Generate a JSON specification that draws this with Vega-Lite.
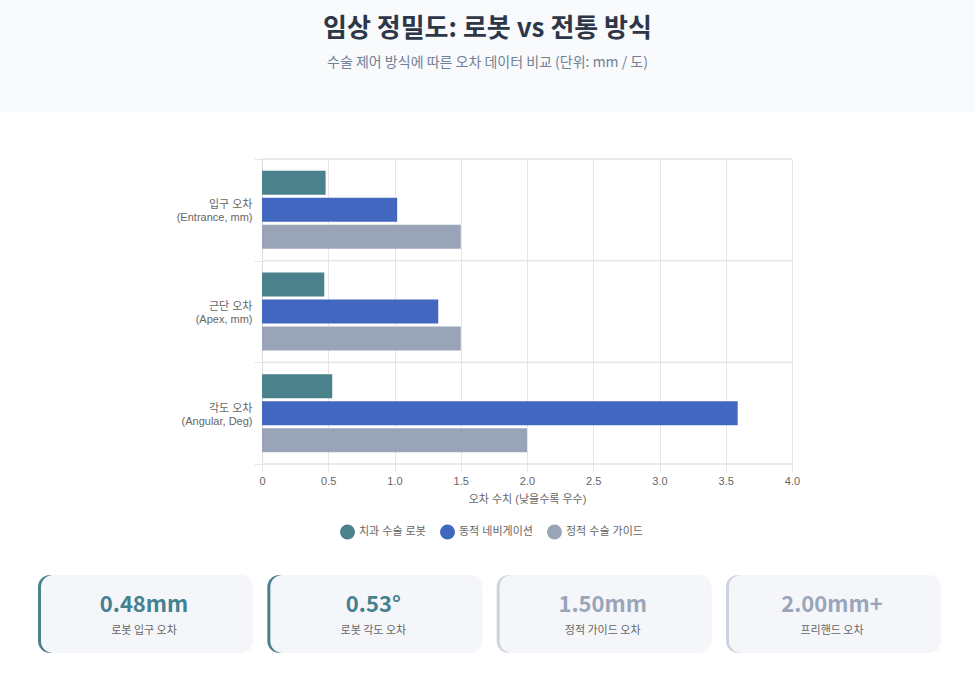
{
  "$schema": "https://vega.github.io/schema/vega-lite/v6.json",
  "background": "white",
  "padding": 0,
  "config": {
    "view": {"stroke": null},
    "font": "Liberation Sans, Noto Sans CJK KR, sans-serif"
  },
  "datasets": {
    "header": [
      {"title": "임상 정밀도: 로봇 vs 전통 방식", "subtitle": "수술 제어 방식에 따른 오차 데이터 비교 (단위: mm / 도)"}
    ],
    "bars": [
      {"metric": "입구 오차|(Entrance, mm)", "series": "치과 수술 로봇", "value": 0.48},
      {"metric": "입구 오차|(Entrance, mm)", "series": "동적 네비게이션", "value": 1.02},
      {"metric": "입구 오차|(Entrance, mm)", "series": "정적 수술 가이드", "value": 1.5},
      {"metric": "근단 오차|(Apex, mm)", "series": "치과 수술 로봇", "value": 0.47},
      {"metric": "근단 오차|(Apex, mm)", "series": "동적 네비게이션", "value": 1.33},
      {"metric": "근단 오차|(Apex, mm)", "series": "정적 수술 가이드", "value": 1.5},
      {"metric": "각도 오차|(Angular, Deg)", "series": "치과 수술 로봇", "value": 0.53},
      {"metric": "각도 오차|(Angular, Deg)", "series": "동적 네비게이션", "value": 3.59},
      {"metric": "각도 오차|(Angular, Deg)", "series": "정적 수술 가이드", "value": 2.0}
    ],
    "cards": [
      {"card": "c1", "value": "0.48mm", "label": "로봇 입구 오차", "kind": "robot"},
      {"card": "c2", "value": "0.53°", "label": "로봇 각도 오차", "kind": "robot"},
      {"card": "c3", "value": "1.50mm", "label": "정적 가이드 오차", "kind": "other"},
      {"card": "c4", "value": "2.00mm+", "label": "프리핸드 오차", "kind": "other"}
    ]
  },
  "spacing": 41,
  "vconcat": [
    {
      "width": 975,
      "height": 112,
      "view": {"fill": "#f8fafc", "stroke": null},
      "data": {"name": "header"},
      "layer": [
        {
          "mark": {"type": "text", "font": "Noto Sans CJK KR", "fontSize": 26, "fontWeight": "bold", "color": "#2d3748", "dy": -27, "baseline": "middle", "align": "center"},
          "encoding": {"text": {"field": "title"}}
        },
        {
          "mark": {"type": "text", "font": "Noto Sans CJK KR", "fontSize": 14, "color": "#718096", "dy": 7, "baseline": "middle", "align": "center"},
          "encoding": {"text": {"field": "subtitle"}}
        }
      ]
    },
    {
      "spacing": 71,
      "vconcat": [
        {
          "width": 792,
          "height": 305,
          "data": {"name": "bars"},
          "layer": [
            {
              "mark": {"type": "rule", "color": "#e6e6e6", "strokeWidth": 1},
              "encoding": {
                "y": {"field": "metric", "type": "nominal", "bandPosition": 0},
                "x": {"datum": 0},
                "x2": {"datum": 4}
              }
            },
            {
              "transform": [{"filter": "datum.metric === '각도 오차|(Angular, Deg)'"}],
              "mark": {"type": "rule", "color": "#e6e6e6", "strokeWidth": 1},
              "encoding": {
                "y": {"field": "metric", "type": "nominal", "bandPosition": 1},
                "x": {"datum": 0},
                "x2": {"datum": 4}
              }
            },
            {
              "mark": {"type": "bar"},
              "encoding": {
                "y": {"field": "metric", "type": "nominal"},
                "x": {"field": "value", "type": "quantitative"},
                "yOffset": {
                  "field": "series",
                  "type": "nominal",
                  "sort": ["치과 수술 로봇", "동적 네비게이션", "정적 수술 가이드"],
                  "scale": {"paddingInner": 0.111, "paddingOuter": 0.438}
                },
                "color": {
                  "field": "series",
                  "type": "nominal",
                  "scale": {
                    "domain": ["치과 수술 로봇", "동적 네비게이션", "정적 수술 가이드"],
                    "range": ["#4a818b", "#4267c0", "#9aa4b8"]
                  },
                  "legend": {
                    "title": null,
                    "orient": "none",
                    "legendX": 340,
                    "legendY": 524.5,
                    "direction": "horizontal",
                    "symbolType": "circle",
                    "symbolSize": 225,
                    "symbolStrokeWidth": 0,
                    "labelFontSize": 11,
                    "labelColor": "#666666",
                    "labelOffset": 4,
                    "columnPadding": 14,
                    "padding": 0
                  }
                }
              }
            }
          ],
          "encoding": {
            "y": {
              "field": "metric",
              "type": "nominal",
              "sort": ["입구 오차|(Entrance, mm)", "근단 오차|(Apex, mm)", "각도 오차|(Angular, Deg)"],
              "scale": {"paddingInner": 0, "paddingOuter": 0},
              "axis": {
                "title": null,
                "offset": -262,
                "labelExpr": "split(datum.label, '|')",
                "labelFontSize": 11,
                "labelColor": "#666666",
                "labelLineHeight": 13,
                "labelBaseline": "middle",
                "labelOffset": -5,
                "tickBand": "extent",
                "grid": false,
                "tickColor": "#e6e6e6",
                "tickSize": 8,
                "labelPadding": 2,
                "domainColor": "#dcdcdc"
              }
            },
            "x": {
              "type": "quantitative",
              "scale": {"domain": [-1.9774, 4], "nice": false, "zero": false},
              "axis": {
                "values": [0, 0.5, 1, 1.5, 2, 2.5, 3, 3.5, 4],
                "labelExpr": "datum.value == 0 ? '0' : format(datum.value, '.1f')",
                "title": "오차 수치 (낮을수록 우수)",
                "titleX": 527,
                "labelFlush": false,
                "grid": true,
                "gridColor": "#e6e6e6",
                "tickColor": "#e6e6e6",
                "tickSize": 8,
                "labelPadding": 3,
                "labelFontSize": 11,
                "labelColor": "#666666",
                "titleFontSize": 11,
                "titleColor": "#666666",
                "titleFontWeight": "normal",
                "titlePadding": 7,
                "domain": false
              }
            }
          }
        },
        {
          "width": 938,
          "height": 78,
          "data": {"name": "cards"},
          "encoding": {
            "x": {
              "field": "card",
              "type": "nominal",
              "sort": null,
              "scale": {"paddingInner": 0.0755, "paddingOuter": 0.08286, "align": 1},
              "axis": null
            }
          },
          "layer": [
            {
              "mark": {"type": "rect", "cornerRadius": 12},
              "encoding": {
                "fill": {"condition": {"test": "datum.kind === 'robot'", "value": "#4a818b"}, "value": "#cdd3de"}
              }
            },
            {
              "mark": {"type": "rect", "cornerRadius": 12, "xOffset": 3, "fill": "#f4f6fa"}
            },
            {
              "mark": {"type": "text", "font": "Noto Sans CJK KR", "fontSize": 22, "fontWeight": "bold", "dy": -9, "baseline": "middle"},
              "encoding": {
                "text": {"field": "value"},
                "fill": {"condition": {"test": "datum.kind === 'robot'", "value": "#45808e"}, "value": "#9aa5ba"}
              }
            },
            {
              "mark": {"type": "text", "font": "Noto Sans CJK KR", "fontSize": 11, "color": "#666666", "dy": 17, "baseline": "middle"},
              "encoding": {"text": {"field": "label"}}
            }
          ]
        }
      ]
    }
  ]
}
